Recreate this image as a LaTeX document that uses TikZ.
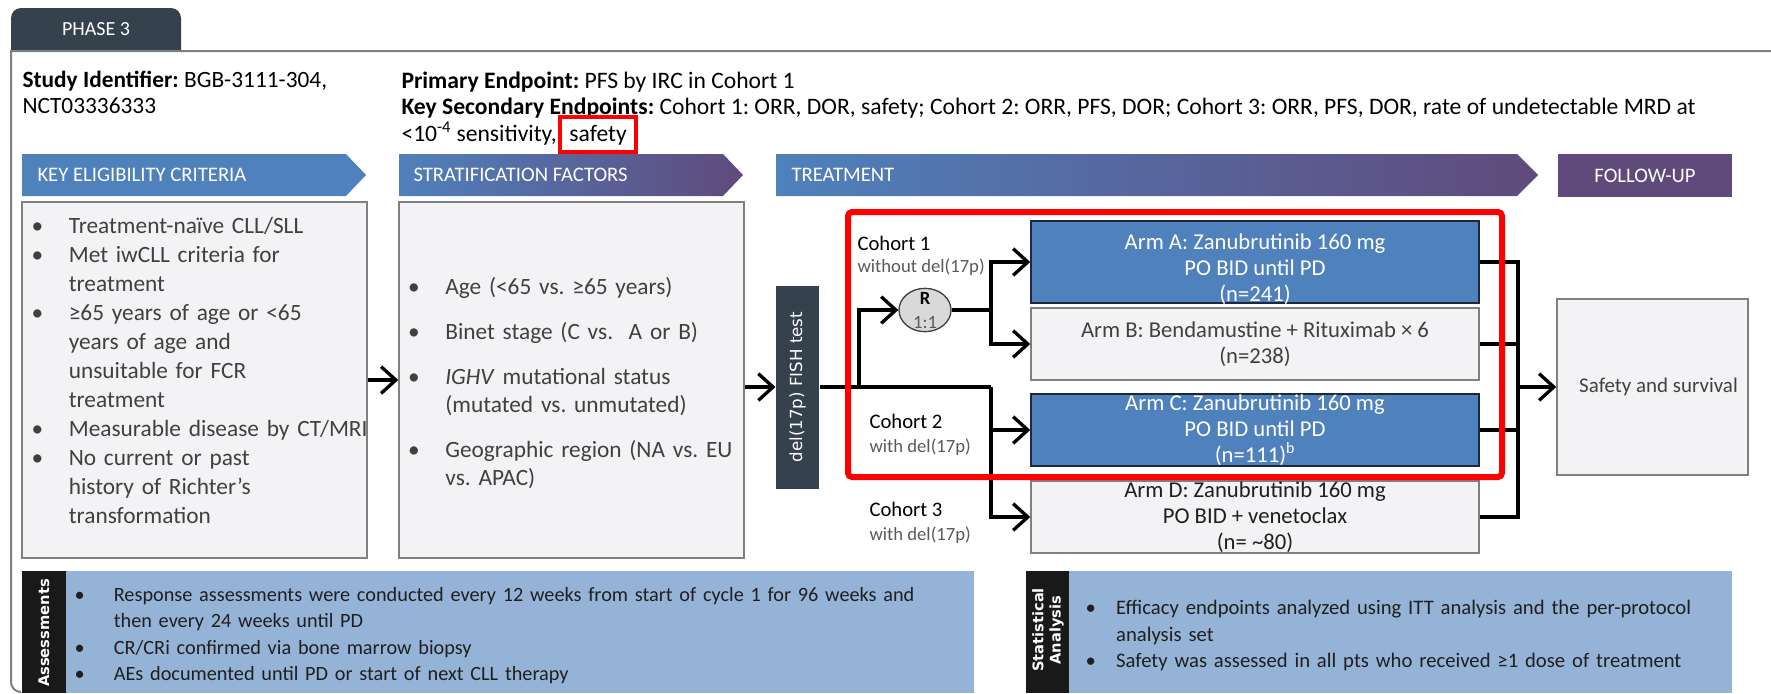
\documentclass[tikz,border=0pt]{standalone}
\usepackage{fontspec}
\setmainfont{Carlito}
\newfontfamily\widesans{DejaVu Sans}
\usetikzlibrary{arrows.meta,calc,shapes.geometric}
\frenchspacing

\definecolor{tabslate}{RGB}{54,65,78}
\definecolor{bannerblue}{RGB}{79,129,189}
\definecolor{bannerpurple}{RGB}{96,74,123}
\definecolor{boxgray}{RGB}{243,243,245}
\definecolor{framegray}{RGB}{128,128,128}
\definecolor{panelblue}{RGB}{149,179,215}
\definecolor{txtgray}{RGB}{64,64,64}
\definecolor{subgray}{RGB}{89,89,89}
\definecolor{paneltxt}{RGB}{31,31,31}
\definecolor{darkline}{RGB}{30,40,60}
\definecolor{randgray}{RGB}{217,217,217}

% bullet item with hanging indent
\newcommand{\bitem}[2][28pt]{\noindent\hangindent=#1\hangafter=1\makebox[#1][l]{\textbullet}#2\par}

\tikzset{
  every picture/.style={line width=0.75pt},
  conn/.style={line width=2.5pt},
  arr/.style={conn, -{Straight Barb[length=11pt,width=20pt]}},
  bannertext/.style={text=white, anchor=west, inner sep=0pt, font=\fontsize{15.5}{18}\selectfont},
  hdr/.style={anchor=north west, inner sep=0pt, align=left, text=black},
  listbox/.style={draw=framegray, fill=boxgray, line width=1.1pt, minimum width=258.75pt, minimum height=267pt, inner sep=0pt},
  listtext/.style={anchor=north west, inner sep=0pt, text=txtgray, align=left},
  armbox/.style={minimum width=336pt, minimum height=54pt, inner sep=0pt, line width=1.1pt},
  armtext/.style={align=center, inner sep=0pt, font=\fontsize{17}{19.5}\selectfont},
  cohort/.style={anchor=west, inner sep=0pt, font=\fontsize{15.5}{18}\selectfont},
  cohortsub/.style={anchor=west, inner sep=0pt, text=subgray, font=\fontsize{14}{16}\selectfont},
  sidebar/.style={rotate=90, text=white, inner sep=0pt, align=center, font=\widesans\bfseries\fontsize{11}{13}\selectfont},
  paneltext/.style={anchor=north west, inner sep=0pt, text=paneltxt, align=left},
}

\begin{document}
\begin{tikzpicture}[x=0.75pt,y=0.75pt,yscale=-1]
\useasboundingbox (0,0) rectangle (1771,693);

%Frame and tab
\fill[tabslate] (11,51) -- (11,18) arc[start angle=180,end angle=270,radius=10] -- (171,8) arc[start angle=270,end angle=360,radius=10] -- (181,51) -- cycle;
\draw[framegray, line width=1.5pt] (1771,51) -- (11,51) -- (11,682) arc[start angle=180,end angle=90,radius=10];
\node[text=white, font=\fontsize{15}{17}\selectfont] (phase) at (96,29) {PHASE 3};

% Text Node
\node[hdr, font=\fontsize{17.5}{19.5}\selectfont] (studyid) at (22,71) {\textbf{Study Identifier:} BGB-3111-304,\\NCT03336333};
% Text Node
\node[hdr, font=\fontsize{17.7}{20}\selectfont] (endpoints) at (401,71) {\textbf{Primary Endpoint:} PFS by IRC in Cohort 1\\\textbf{Key Secondary Endpoints:} Cohort 1: ORR, DOR, safety; Cohort 2: ORR, PFS, DOR; Cohort 3: ORR, PFS, DOR, rate of undetectable MRD at};
% Text Node
\node[anchor=base west, inner sep=0pt, font=\fontsize{17.7}{20}\selectfont] (sens) at (401,141) {<10\textsuperscript{-4} sensitivity,};
\node[anchor=base west, draw=red, line width=3pt, inner xsep=7pt, inner ysep=5.5pt, font=\fontsize{17.7}{20}\selectfont] (safety) at ($(sens.base east)+(1,0)$) {safety\hspace{4pt}};

%Banners
\fill[bannerblue] (22,154) -- (346,154) -- (366,175) -- (346,196) -- (22,196) -- cycle;
\node[bannertext] (eligtitle) at (37,175) {KEY ELIGIBILITY CRITERIA};
\shade[left color=bannerblue, right color=bannerpurple] (399,154) -- (723,154) -- (743,175) -- (723,196) -- (399,196) -- cycle;
\node[bannertext] (strattitle) at (413,175) {STRATIFICATION FACTORS};
\shade[left color=bannerblue, right color=bannerpurple] (776,154) -- (1517,154) -- (1538,175) -- (1517,196) -- (776,196) -- cycle;
\node[bannertext] (treattitle) at (791,175) {TREATMENT};
\fill[bannerpurple] (1558,154) rectangle (1732,197);
\node[bannertext, anchor=center] (followtitle) at (1645,175.5) {FOLLOW-UP};

%Eligibility and stratification
\node[listbox] (elig) at (194.5,380) {};
\node[listtext, text width=259pt, font=\fontsize{17.5}{21.7}\selectfont] (eligtext) at (31,217) {%
\bitem{Treatment-naïve CLL/SLL}%
\bitem{Met iwCLL criteria for\newline treatment}%
\bitem{≥65 years of age or <65\newline years of age and\newline unsuitable for FCR\newline treatment}%
\bitem{Measurable disease by CT/MRI}%
\bitem{No current or past\newline history of Richter’s\newline transformation}};
\node[listbox] (strat) at (571.5,380) {};
\node[listtext, text width=259pt, font=\fontsize{17.5}{21}\selectfont] (strattext) at (407.5,277) {\setlength{\parskip}{12.75pt}%
\bitem{Age (<65 vs. ≥65 years)}%
\bitem{Binet stage (C vs.\ \ A or B)}%
\bitem{\textit{IGHV} mutational status\newline (mutated vs. unmutated)}%
\bitem{Geographic region (NA vs. EU\newline vs. APAC)}};

%FISH test
\node[fill=tabslate, minimum width=32.25pt, minimum height=152.25pt, inner sep=0pt] (fish) at (797.5,387) {};
\node[rotate=90, text=white, inner sep=0pt, font=\widesans\fontsize{12.5}{14}\selectfont] (fishtext) at (fish.center) {del(17p) FISH test};

%Cohorts
\node[cohort] (c1) at (857,243) {Cohort 1};
\node[cohortsub] (c1sub) at (857,267) {without del(17p)};
\node[cohort] (c2) at (869,421) {Cohort 2};
\node[cohortsub] (c2sub) at (869,447) {with del(17p)};
\node[cohort] (c3) at (869,509) {Cohort 3};
\node[cohortsub] (c3sub) at (869,535) {with del(17p)};

%Randomisation
\node[ellipse, draw=txtgray, fill=randgray, line width=1pt, minimum width=39pt, minimum height=32.5pt, inner sep=0pt] (rand) at (925,310) {};
\node[inner sep=0pt, font=\bfseries\fontsize{14}{16}\selectfont] (randR) at ($(rand.center)+(0,-12)$) {R};
\node[inner sep=0pt, text=subgray, font=\fontsize{14}{16}\selectfont] (ratio) at ($(rand.center)+(0,13)$) {1:1};

%Arms
\node[armbox, fill=bannerblue, draw=darkline, minimum height=61.5pt] (armA) at (1255,262) {};
\node[armtext, text=white] (armAtext) at ($(armA.center)+(0,7.5)$) {Arm A: Zanubrutinib 160 mg\\PO BID until PD\\(n=241)};
\node[armbox, fill=boxgray, draw=framegray] (armB) at (1255,344) {};
\node[armtext, text=txtgray] (armBtext) at (armB.center) {Arm B: Bendamustine + Rituximab × 6\\(n=238)};
\node[armbox, fill=bannerblue, draw=darkline] (armC) at (1255,430) {};
\node[armtext, text=white] (armCtext) at (armC.center) {Arm C: Zanubrutinib 160 mg\\PO BID until PD\\(n=111)\textsuperscript{b}};
\node[armbox, fill=boxgray, draw=framegray] (armD) at (1255,517) {};
\node[armtext, text=paneltxt] (armDtext) at (armD.center) {Arm D: Zanubrutinib 160 mg\\PO BID + venetoclax\\(n= \textasciitilde80)};

%Follow-up
\node[draw=framegray, fill=boxgray, line width=1.1pt, minimum width=143.25pt, minimum height=132pt, inner sep=0pt, text=txtgray, font=\fontsize{15.7}{18}\selectfont] (follow) at (1652.5,387) {\hspace{9pt}Safety and survival};

%Connectors
\draw[arr] (elig.east) -- (strat.west);
\draw[arr] (strat.east |- fish.west) -- (fish.west);
\coordinate (split) at (859,387);
\coordinate (hub) at (991,387);
\draw[conn] (fish.east) -- (hub);
\draw[arr] (split) |- (rand.west);
\draw[arr] (hub) |- (armC.west);
\draw[arr] (hub) |- (armD.west);
\coordinate (fork) at (rand.east -| hub);
\draw[conn] (rand.east) -- (fork);
\draw[arr] (fork) |- (armA.west);
\draw[arr] (fork) |- (armB.west);
\coordinate (merge) at (1518,387);
\draw[conn] (armA.east) -| (merge);
\draw[conn] (armD.east) -| (merge);
\draw[conn] (armB.east) -- (armB.east -| merge);
\draw[conn] (armC.east) -- (armC.east -| merge);
\draw[arr] (merge) -- (follow.west);

%Highlight of cohorts 1 and 2
\draw[red, line width=4.5pt, rounded corners=3pt] (848,212) rectangle (1502,477);

%Assessments panel
\fill[black!90] (22,571) rectangle (66,693);
\fill[panelblue] (66,571) rectangle (974,693);
\node[sidebar] (assesslabel) at (44,633) {Assessments};
\node[paneltext, text width=675pt, font=\fontsize{15.2}{19.8}\selectfont] (assesstext) at (74,587) {%
\bitem[29.5pt]{Response assessments were conducted every 12 weeks from start of cycle 1 for 96 weeks and\newline then every 24 weeks until PD}%
\bitem[29.5pt]{CR/CRi confirmed via bone marrow biopsy}%
\bitem[29.5pt]{AEs documented until PD or start of next CLL therapy}};

%Statistical analysis panel
\fill[black!90] (1026,571) rectangle (1069,693);
\fill[panelblue] (1069,571) rectangle (1732,693);
\node[sidebar] (statlabel) at (1048,630) {Statistical\\Analysis};
\node[paneltext, text width=480pt, font=\fontsize{15.5}{20}\selectfont] (stattext) at (1085,599.5) {%
\bitem[23pt]{Efficacy endpoints analyzed using ITT analysis and the per-protocol\newline analysis set}%
\bitem[23pt]{Safety was assessed in all pts who received ≥1 dose of treatment}};
\end{tikzpicture}
\end{document}
